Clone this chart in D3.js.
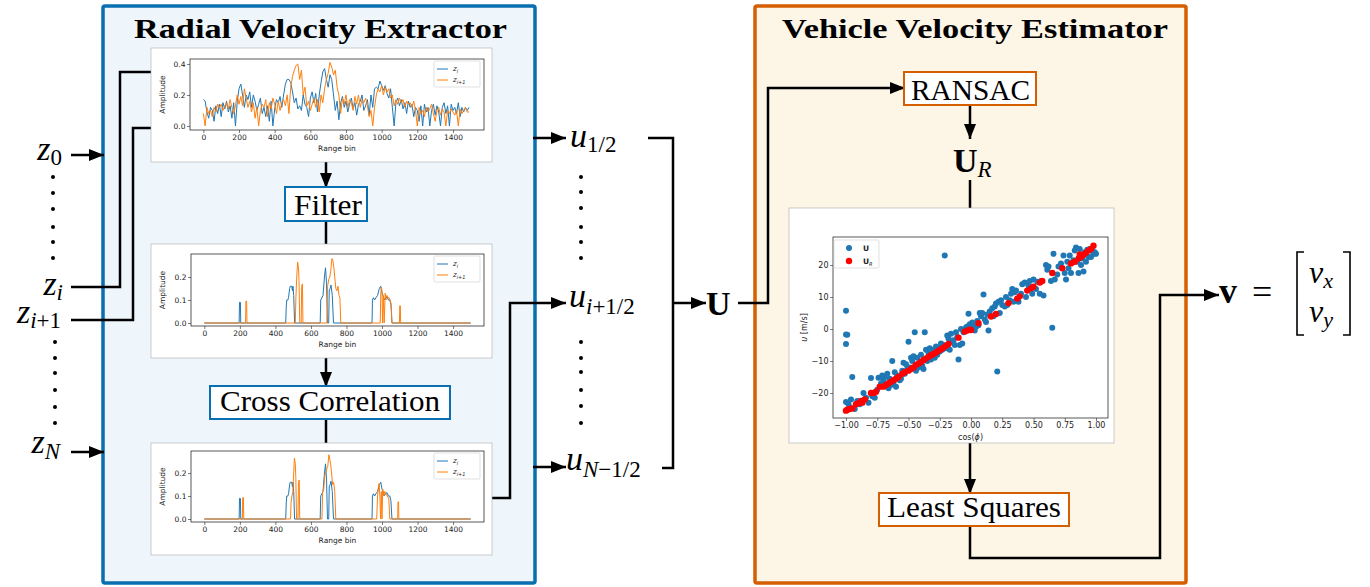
<!DOCTYPE html>
<html>
<head>
<meta charset="utf-8">
<script src="https://cdn.jsdelivr.net/npm/d3@7"></script>
<style>
  body { margin: 0; background: #fff; }
  svg { display: block; }
</style>
</head>
<body>
<div id="container"></div>
<script>
/* DATA */
// raw range profiles, one value every 10 range bins (0..1490)
const rawStep = 10;
const rawZi = [0.17,0.16,0.09,0.05,0.12,0.1,0.03,0.13,0.08,0.14,0.06,0.15,0.11,0.16,0.09,0.13,0.05,0.15,0.0,0.16,
  0.24,0.27,0.2,0.12,0.2,0.17,0.22,0.12,0.2,0.16,0.1,0.14,0.18,0.08,0.12,0.06,0.13,0.03,0.16,0.0,
  0.11,0.17,0.15,0.19,0.12,0.2,0.27,0.3,0.3,0.28,0.22,0.15,0.18,0.11,0.13,0.1,0.2,0.14,0.12,0.06,
  0.18,0.22,0.15,0.21,0.09,0.2,0.28,0.35,0.37,0.3,0.25,0.33,0.3,0.2,0.1,0.16,0.04,0.15,0.19,0.12,
  0.16,0.09,0.14,0.18,0.11,0.15,0.07,0.14,0.16,0.2,0.1,0.13,0.17,0.07,0.2,0.12,0.24,0.25,0.24,0.29,
  0.26,0.23,0.26,0.21,0.18,0.24,0.12,0.0,0.15,0.18,0.13,0.17,0.11,0.15,0.08,0.16,0.12,0.14,0.06,0.12,
  0.1,0.03,0.13,0.0,0.14,0.09,0.12,0.0,0.1,0.14,0.07,0.13,0.09,0.0,0.12,0.15,0.08,0.13,0.0,0.14,
  0.1,0.12,0.08,0.15,0.06,0.12,0.09,0.12,0.1,0.12];
const rawZi1 = [0.08,0.0,0.12,0.08,0.1,0.06,0.12,0.09,0.14,0.12,0.14,0.1,0.13,0.15,0.11,0.17,0.12,0.08,0.13,0.2,
  0.14,0.19,0.13,0.24,0.18,0.12,0.16,0.09,0.15,0.05,0.12,0.0,0.1,0.14,0.12,0.17,0.06,0.15,0.11,0.18,
  0.14,0.08,0.16,0.1,0.15,0.17,0.13,0.2,0.08,0.25,0.32,0.36,0.39,0.4,0.3,0.36,0.2,0.25,0.13,0.16,
  0.1,0.14,0.18,0.12,0.17,0.09,0.2,0.15,0.24,0.3,0.34,0.41,0.38,0.33,0.36,0.25,0.2,0.08,0.18,0.14,
  0.2,0.12,0.17,0.15,0.1,0.19,0.14,0.2,0.12,0.17,0.15,0.18,0.13,0.06,0.1,0.0,0.12,0.2,0.24,0.22,
  0.26,0.2,0.25,0.22,0.24,0.18,0.2,0.13,0.17,0.14,0.18,0.15,0.17,0.12,0.16,0.14,0.15,0.12,0.16,0.1,
  0.0,0.12,0.08,0.1,0.06,0.12,0.09,0.11,0.14,0.08,0.03,0.1,0.12,0.07,0.11,0.09,0.0,0.1,0.08,0.11,
  0.09,0.07,0.1,0.0,0.11,0.08,0.1,0.12,0.09,0.09];

// filtered profiles: [range bin, amplitude]
const filtZi = [[0,0],[196,0],[198,0.09],[203,0.09],[205,0],[458,0],[461,0.07],[464,0.1],[470,0.1],[474,0.11],
  [480,0.15],[484,0.16],[492,0.16],[496,0.14],[499,0.16],[503,0.12],[508,0],[652,0],[655,0.1],[662,0.11],
  [668,0.12],[676,0.2],[682,0.24],[688,0.17],[693,0],[700,0],[703,0.14],[708,0.15],[713,0.165],[720,0.12],
  [727,0],[944,0],[946,0.1],[952,0.11],[958,0.1],[966,0.11],[975,0.12],[985,0.15],[993,0.16],[1000,0.13],
  [1006,0.12],[1012,0.1],[1020,0.11],[1028,0.115],[1036,0.1],[1044,0.1],[1050,0.08],[1056,0],[1499,0]];
const filtZi1 = [[0,0],[232,0],[234,0.095],[238,0.095],[240,0],[512,0],[515,0.1],[520,0.2],[525,0.265],[530,0.24],
  [533,0.18],[537,0],[545,0],[548,0.16],[552,0.17],[555,0],[690,0],[694,0.16],[700,0.19],[706,0.2],
  [712,0.23],[718,0.28],[724,0.27],[729,0.24],[734,0.2],[740,0.15],[746,0.14],[752,0.16],[758,0.12],[763,0.11],
  [768,0],[990,0],[993,0.13],[997,0.155],[1000,0.14],[1003,0],[1008,0.12],[1012,0],[1018,0.13],[1022,0.1],
  [1028,0.12],[1034,0.11],[1040,0.11],[1046,0.1],[1052,0.08],[1056,0],[1098,0],[1100,0.075],[1103,0.075],[1105,0],[1499,0]];
// after cross correlation alignment
const alignZi = filtZi;
const alignZi1 = [[0,0],[214,0],[216,0.093],[220,0.093],[222,0],[485,0],[488,0.07],[493,0.1],[498,0.12],[503,0.2],
  [507,0.265],[512,0.24],[515,0.18],[519,0],[527,0],[530,0.16],[534,0.17],[537,0],[662,0],[666,0.12],
  [672,0.13],[678,0.19],[684,0.2],[690,0.22],[695,0.23],[701,0.28],[706,0.26],[711,0.24],[716,0.2],[722,0.15],
  [728,0.16],[734,0.12],[740,0],[970,0],[975,0.1],[980,0.14],[984,0.155],[988,0.1],[992,0],[996,0.12],
  [1000,0],[1004,0.13],[1010,0.1],[1016,0.12],[1022,0.11],[1030,0.1],[1038,0.09],[1044,0],[1088,0],[1090,0.075],
  [1093,0.075],[1095,0],[1499,0]];

const binTicks = [0,200,400,600,800,1000,1200,1400];

// radial velocities: [cos(phi), u]
const velAll = [[-1.0,5.7],[-1.0,-1.7],[-0.99,-1.8],[-1.0,-4.7],[-1.0,-22.8],[-0.98,-23.5],[-0.97,-24.5],[-0.96,-22],[-0.95,-15],[-0.93,-25],
  [-0.91,-22.5],[-0.89,-23.5],[-0.86,-20],[-0.84,-21.5],[-0.82,-23],[-0.8,-15.3],[-0.79,-21],[-0.77,-21.5],[-0.75,-19],[-0.74,-15.2],
  [-0.72,-17],[-0.71,-14.5],[-0.7,-16],[-0.69,-15],[-0.67,-14],[-0.66,-18.5],[-0.65,-15.5],[-0.64,-17.5],[-0.63,-10],[-0.62,-16.8],
  [-0.61,-13.5],[-0.6,-18],[-0.59,-14.5],[-0.57,-16],[-0.56,-15.5],[-0.55,-13],[-0.54,-10.5],[-0.53,-14],[-0.52,-11],[-0.51,-12.5],
  [-0.5,-4],[-0.49,-12],[-0.48,-9],[-0.47,-10],[-0.46,-8.5],[-0.45,-1],[-0.44,-13],[-0.43,-9],[-0.42,-12],[-0.41,-10.5],
  [-0.4,-8],[-0.39,-11.5],[-0.38,-12.5],[-0.37,-1],[-0.36,-6.5],[-0.35,-10],[-0.34,-7.5],[-0.33,-6],[-0.32,-9.5],[-0.31,-7],
  [-0.3,-6.5],[-0.29,-9],[-0.28,-5.5],[-0.27,-8],[-0.26,-6],[-0.25,-7],[-0.24,-4.5],[-0.23,-6.5],[-0.22,-5],[-0.21,23],
  [-0.2,-6],[-0.19,-2],[-0.18,-3],[-0.17,-6.5],[-0.16,-1.5],[-0.15,-4],[-0.14,-3.5],[-0.13,-5],[-0.12,-1],[-0.11,-2.5],
  [-0.1,-9.5],[-0.09,-5],[-0.08,0],[-0.07,-4.5],[-0.06,-1],[-0.05,-0.5],[-0.04,0.5],[-0.03,0.8],[-0.02,4.8],[-0.01,1.5],
  [0.0,0.5],[0.01,2],[0.02,1],[0.03,-0.5],[0.04,0.7],[0.05,2.5],[0.06,1.2],[0.07,5],[0.08,4],[0.09,5],
  [0.1,10.8],[0.11,3],[0.12,2.2],[0.13,4.5],[0.14,-0.5],[0.15,5.5],[0.17,6.5],[0.18,4],[0.19,7],[0.2,8],
  [0.21,-13.3],[0.22,8.5],[0.23,5],[0.24,9],[0.25,7.5],[0.27,7],[0.28,10],[0.29,7.5],[0.31,9],[0.32,11],
  [0.33,12.5],[0.34,8.5],[0.35,11.5],[0.36,12],[0.38,8.5],[0.4,11],[0.41,14],[0.43,14.5],[0.44,10],[0.46,13.5],
  [0.47,15],[0.49,11],[0.5,15.5],[0.52,12.5],[0.53,14.8],[0.55,11],[0.56,15],[0.58,10.5],[0.6,20],[0.61,18.5],
  [0.62,19.5],[0.64,15],[0.65,0.4],[0.66,23.5],[0.67,15.5],[0.69,17],[0.7,19.5],[0.72,20.5],[0.74,23],[0.75,17.5],
  [0.76,15.5],[0.77,21],[0.78,19],[0.79,23],[0.8,17.5],[0.82,21.5],[0.83,24.5],[0.84,25.5],[0.85,21],[0.86,17.5],
  [0.87,25],[0.88,20],[0.89,22],[0.9,18],[0.91,24],[0.92,21],[0.93,24.8],[0.94,22.5],[0.95,25],[0.96,22.5],
  [0.97,24.5],[0.98,23.5],[0.99,24],[1.0,23.5]];
const velInliers = [[-1.0,-25.5],[-0.99,-25.2],[-0.97,-25],[-0.95,-24.8],[-0.92,-23.5],[-0.9,-23.2],[-0.88,-22.5],[-0.87,-23],[-0.85,-22],[-0.8,-20],
  [-0.78,-20],[-0.76,-19.6],[-0.73,-18],[-0.7,-18],[-0.68,-17.5],[-0.66,-17],[-0.64,-16.5],[-0.62,-16],[-0.6,-15.5],[-0.58,-15],
  [-0.55,-14],[-0.53,-13.5],[-0.5,-13],[-0.48,-12.5],[-0.46,-12],[-0.44,-11.2],[-0.42,-10.8],[-0.4,-10.3],[-0.38,-9.7],[-0.36,-9.2],
  [-0.34,-8.7],[-0.32,-8.2],[-0.3,-7.8],[-0.28,-7.3],[-0.26,-6.8],[-0.24,-6.3],[-0.22,-5.8],[-0.2,-5.2],[-0.18,-4.7],[-0.1,-2.7],
  [-0.05,-0.8],[-0.03,-0.5],[-0.01,-0.2],[0.0,-0.3],[0.06,1.8],[0.16,3.9],[0.2,4.7],[0.3,8.1],[0.37,9.5],[0.39,10.2],
  [0.45,12],[0.48,12.7],[0.5,13.2],[0.55,14.5],[0.57,15],[0.65,17.5],[0.73,19],[0.8,20.5],[0.83,21],[0.86,22],
  [0.87,23.3],[0.88,22.5],[0.9,23.2],[0.92,23.8],[0.94,24.5],[0.96,25],[0.98,26]];
const cosTicks = [-1,-0.75,-0.5,-0.25,0,0.25,0.5,0.75,1];
const uTicks = [-20,-10,0,10,20];

/* CONSTANTS */
const width = 1370, height = 587;
const blue = "#1f77b4", orange = "#ff7f0e";
const extractorColor = "#0a6fb0", estimatorColor = "#d55e00";
const serif = "'Liberation Serif', 'Times New Roman', serif";
const sans = "'DejaVu Sans', sans-serif";

const svg = d3.select("#container").append("svg")
  .attr("width", width).attr("height", height)

const defs = svg.append("defs")
defs.append("marker")
  .attr("id", "arrow")
  .attr("markerUnits", "userSpaceOnUse")
  .attr("markerWidth", 16).attr("markerHeight", 14)
  .attr("refX", 15).attr("refY", 7)
  .attr("orient", "auto")
  .append("path").attr("d", "M0,1 L15,7 L0,13 Z").attr("fill", "#000")

/* BLOCKS */
svg.append("rect").attr("x", 103).attr("y", 6).attr("width", 432).attr("height", 577)
  .attr("fill", "#eef6fc").attr("stroke", extractorColor).attr("stroke-width", 3.5).attr("rx", 2)
svg.append("rect").attr("x", 755).attr("y", 6).attr("width", 431).attr("height", 577)
  .attr("fill", "#fdf5e6").attr("stroke", estimatorColor).attr("stroke-width", 3.5).attr("rx", 2)

svg.append("text").attr("x", 134).attr("y", 38).attr("textLength", 373).attr("lengthAdjust", "spacingAndGlyphs")
  .attr("font-family", serif).attr("font-weight", "bold").attr("font-size", 27).text("Radial Velocity Extractor")
svg.append("text").attr("x", 782).attr("y", 38).attr("textLength", 386).attr("lengthAdjust", "spacingAndGlyphs")
  .attr("font-family", serif).attr("font-weight", "bold").attr("font-size", 27).text("Vehicle Velocity Estimator")

/* WIRES */
function wire(points, arrow) {
  const p = svg.append("path")
    .attr("d", d3.line()(points))
    .attr("fill", "none").attr("stroke", "#000").attr("stroke-width", 2.5)
  if (arrow) p.attr("marker-end", "url(#arrow)")
}
wire([[71,155],[104,155]], true)
wire([[71,452],[104,452]], true)
wire([[71,287],[120,287],[120,72],[152,72]])
wire([[71,320],[133,320],[133,128],[152,128]])
wire([[326,162],[326,188]], true)
wire([[326,221],[326,244]])
wire([[326,358],[326,387]], true)
wire([[326,419],[326,443]])
wire([[533,138],[566,138]], true)
wire([[492,498],[510,498],[510,303],[566,303]], true)
wire([[533,467],[566,467]], true)
wire([[648,138],[673,138],[673,468],[662,468]])
wire([[673,303],[706,303]], true)
wire([[738,303],[768,303],[768,88],[905,88]], true)
wire([[970,105],[970,139]], true)
wire([[970,180],[970,208]])
wire([[970,443],[970,494]], true)
wire([[970,526],[970,558],[1160,558],[1160,295],[1219,295]], true)

/* LABEL BOXES */
function labelBox(x, y, w, h, color, label, tx, ty, tl) {
  svg.append("rect").attr("x", x).attr("y", y).attr("width", w).attr("height", h)
    .attr("fill", "#fff").attr("stroke", color).attr("stroke-width", 2)
  svg.append("text").attr("x", tx).attr("y", ty).attr("textLength", tl).attr("lengthAdjust", "spacingAndGlyphs")
    .attr("font-family", serif).attr("font-size", 30).text(label)
}
labelBox(285, 187, 82, 34, extractorColor, "Filter", 294, 215, 68)
labelBox(210, 386, 240, 33, extractorColor, "Cross Correlation", 220, 411, 220)
labelBox(904, 72, 132, 33, estimatorColor, "RANSAC", 911, 100, 119)
labelBox(879, 493, 190, 33, estimatorColor, "Least Squares", 887, 517, 174)

/* MATH LABELS */
function math(x, y, parts, anchor) {
  const t = svg.append("text").attr("x", x).attr("y", y)
    .attr("font-family", serif).attr("text-anchor", anchor || "start")
  parts.forEach(p => {
    t.append("tspan").attr("dy", p.dy || 0)
      .attr("font-size", p.size)
      .attr("font-style", p.italic ? "italic" : "normal")
      .attr("font-weight", p.bold ? "bold" : "normal")
      .attr("dx", p.dx || 0)
      .text(p.t)
  })
  return t
}
const Z = {t: "z", italic: true, size: 34}
math(62, 160, [Z, {t: "0", size: 23, dy: 5}], "end")
math(63, 295, [Z, {t: "i", size: 23, dy: 5, italic: true}], "end")
math(61, 323, [Z, {t: "i", size: 23, dy: 5, italic: true}, {t: "+1", size: 23}], "end")
math(60, 453, [Z, {t: "N", size: 23, dy: 6, italic: true}], "end")

const U = {t: "u", italic: true, size: 34}
math(570, 147, [U, {t: "1/2", size: 23, dy: 5}])
math(569, 307, [U, {t: "i", size: 23, dy: 7, italic: true}, {t: "+1/2", size: 23}])
math(566, 470, [U, {t: "N", size: 23, dy: 7, italic: true}, {t: "−1/2", size: 23}])
math(706, 315, [{t: "U", bold: true, size: 34}])
math(953, 172, [{t: "U", bold: true, size: 34}, {t: "R", italic: true, size: 23, dy: 5}])

// output vector
math(1219, 303, [{t: "v", bold: true, size: 36}])
math(1252, 304, [{t: "=", size: 36}])
svg.append("path").attr("d", "M1304,252 H1297 V335 H1304 M1343,252 H1350 V335 H1343")
  .attr("fill", "none").attr("stroke", "#000").attr("stroke-width", 1.6)
math(1309, 283, [{t: "v", italic: true, size: 32}, {t: "x", italic: true, size: 22, dy: 5}])
math(1309, 322, [{t: "v", italic: true, size: 32}, {t: "y", italic: true, size: 22, dy: 5}])

// vertical ellipses
const dotsLeft = [[53,177],[53,193],[53,209],[53,227],[53,242],[53,258],[55,342],[55,358],[55,373],[55,390],[55,407],[55,423]]
const dotsMid = [[581,177],[581,192],[581,208],[581,227],[581,242],[581,258],[581,342],[581,358],[581,372],[581,390],[581,406],[581,423]]
svg.selectAll("circle.dot").data(dotsLeft.concat(dotsMid)).join("circle")
  .attr("class", "dot").attr("cx", d => d[0]).attr("cy", d => d[1]).attr("r", 2).attr("fill", "#000")

/* SIGNAL PLOTS */
function styleAxis(g, size) {
  g.select(".domain").remove()
  g.selectAll("text").attr("font-family", sans).attr("font-size", size).attr("fill", "#222")
  g.selectAll("line").attr("stroke", "#222").attr("stroke-width", 0.6)
}
function signalPlot(p, s1, s2, yDom, yTicks) {
  const g = svg.append("g")
  g.append("rect").attr("x", p.px).attr("y", p.py).attr("width", p.pw).attr("height", p.ph)
    .attr("fill", "#fff").attr("stroke", "#aaa").attr("stroke-width", 0.6)
  const x = d3.scaleLinear().domain([-75, 1574]).range([p.x0, p.x1])
  const y = d3.scaleLinear().domain(yDom).range([p.y1, p.y0])
  const line = d3.line().x(d => x(d[0])).y(d => y(d[1]))
  g.append("path").datum(s1).attr("d", line).attr("fill", "none").attr("stroke", blue).attr("stroke-width", 1)
  g.append("path").datum(s2).attr("d", line).attr("fill", "none").attr("stroke", orange).attr("stroke-width", 1)
  g.append("rect").attr("x", p.x0).attr("y", p.y0).attr("width", p.x1 - p.x0).attr("height", p.y1 - p.y0)
    .attr("fill", "none").attr("stroke", "#111").attr("stroke-width", 0.7)
  g.append("g").attr("transform", `translate(0,${p.y1})`)
    .call(d3.axisBottom(x).tickValues(binTicks).tickFormat(d3.format("d")).tickSize(3).tickPadding(1.5))
    .call(a => styleAxis(a, 7.5))
  g.append("g").attr("transform", `translate(${p.x0},0)`)
    .call(d3.axisLeft(y).tickValues(yTicks).tickFormat(d3.format(".1f")).tickSize(3).tickPadding(1.5))
    .call(a => styleAxis(a, 7.5))
  g.append("text").attr("transform", `translate(${p.px + 14},${(p.y0 + p.y1) / 2}) rotate(-90)`)
    .attr("text-anchor", "middle").attr("font-family", sans).attr("font-size", 7.5).attr("fill", "#222").text("Amplitude")
  g.append("text").attr("x", (p.x0 + p.x1) / 2).attr("y", p.y1 + 21)
    .attr("text-anchor", "middle").attr("font-family", sans).attr("font-size", 7.5).attr("fill", "#222").text("Range bin")
  // legend
  const lx = p.x1 - 50, ly = p.y0 + 2
  g.append("rect").attr("x", lx).attr("y", ly).attr("width", 46).attr("height", 26).attr("rx", 1.5)
    .attr("fill", "#fff").attr("stroke", "#ccc").attr("stroke-width", 0.6)
  ;[[blue, "i", 8], [orange, "i+1", 19]].forEach(([c, sub, dy]) => {
    g.append("line").attr("x1", lx + 3).attr("x2", lx + 14).attr("y1", ly + dy).attr("y2", ly + dy)
      .attr("stroke", c).attr("stroke-width", 1)
    const t = g.append("text").attr("x", lx + 19).attr("y", ly + dy + 2).attr("font-family", sans).attr("fill", "#222")
    t.append("tspan").attr("font-size", 7).attr("font-style", "italic").text("z")
    t.append("tspan").attr("font-size", 5).attr("dy", 1.5).attr("font-style", "italic").text(sub)
  })
}
const rawSeries = arr => arr.map((v, i) => [i * rawStep, v])
signalPlot({px: 151, py: 48, pw: 341, ph: 114, x0: 190, x1: 484, y0: 59, y1: 130},
  rawSeries(rawZi), rawSeries(rawZi1), [-0.026, 0.432], [0, 0.2, 0.4])
signalPlot({px: 151, py: 244, pw: 341, ph: 114, x0: 191, x1: 484, y0: 254, y1: 326},
  filtZi, filtZi1, [-0.013, 0.3], [0, 0.1, 0.2])
signalPlot({px: 151, py: 443, pw: 341, ph: 112, x0: 191, x1: 484, y0: 451, y1: 522},
  alignZi, alignZi1, [-0.013, 0.296], [0, 0.1, 0.2])

/* SCATTER PLOT */
const sp = {px: 789, py: 208, pw: 325, ph: 235, x0: 833, x1: 1108, y0: 237, y1: 418}
const sg = svg.append("g")
sg.append("rect").attr("x", sp.px).attr("y", sp.py).attr("width", sp.pw).attr("height", sp.ph)
  .attr("fill", "#fff").attr("stroke", "#aaa").attr("stroke-width", 0.6)
const xS = d3.scaleLinear().domain([-1.104, 1.096]).range([sp.x0, sp.x1])
const yS = d3.scaleLinear().domain([-27.8, 28.75]).range([sp.y1, sp.y0])
sg.selectAll("circle.all").data(velAll).join("circle").attr("class", "all")
  .attr("cx", d => xS(d[0])).attr("cy", d => yS(d[1])).attr("r", 3).attr("fill", blue)
sg.selectAll("circle.inl").data(velInliers).join("circle").attr("class", "inl")
  .attr("cx", d => xS(d[0])).attr("cy", d => yS(d[1])).attr("r", 3.2).attr("fill", "#ff0000")
sg.append("rect").attr("x", sp.x0).attr("y", sp.y0).attr("width", sp.x1 - sp.x0).attr("height", sp.y1 - sp.y0)
  .attr("fill", "none").attr("stroke", "#111").attr("stroke-width", 0.7)
const minus = s => s.replace("-", "−")
sg.append("g").attr("transform", `translate(0,${sp.y1})`)
  .call(d3.axisBottom(xS).tickValues(cosTicks).tickFormat(d => minus(d3.format(".2f")(d))).tickSize(3).tickPadding(1.5))
  .call(a => styleAxis(a, 8))
sg.append("g").attr("transform", `translate(${sp.x0},0)`)
  .call(d3.axisLeft(yS).tickValues(uTicks).tickFormat(d => minus(String(d))).tickSize(3).tickPadding(1.5))
  .call(a => styleAxis(a, 8))
const yl = sg.append("text").attr("transform", `translate(807,${(sp.y0 + sp.y1) / 2}) rotate(-90)`)
  .attr("text-anchor", "middle").attr("font-family", sans).attr("font-size", 8).attr("fill", "#222")
yl.append("tspan").attr("font-style", "italic").text("u")
yl.append("tspan").text(" [m/s]")
const xl = sg.append("text").attr("x", (sp.x0 + sp.x1) / 2).attr("y", 440)
  .attr("text-anchor", "middle").attr("font-family", sans).attr("font-size", 8).attr("fill", "#222")
xl.append("tspan").text("cos(")
xl.append("tspan").attr("font-style", "italic").text("ϕ")
xl.append("tspan").text(")")
// legend
sg.append("rect").attr("x", 834).attr("y", 240).attr("width", 45).attr("height", 28).attr("rx", 1.5)
  .attr("fill", "#fff").attr("stroke", "#ccc").attr("stroke-width", 0.6)
sg.append("circle").attr("cx", 849).attr("cy", 248).attr("r", 3).attr("fill", blue)
sg.append("circle").attr("cx", 849).attr("cy", 261).attr("r", 3.2).attr("fill", "#ff0000")
sg.append("text").attr("x", 863).attr("y", 251).attr("font-family", sans).attr("font-size", 7.5)
  .attr("font-weight", "bold").attr("fill", "#222").text("U")
const lt = sg.append("text").attr("x", 863).attr("y", 264).attr("font-family", sans).attr("fill", "#222")
lt.append("tspan").attr("font-size", 7.5).attr("font-weight", "bold").text("U")
lt.append("tspan").attr("font-size", 5).attr("font-style", "italic").attr("dy", 1.5).text("R")
</script>
</body>
</html>
